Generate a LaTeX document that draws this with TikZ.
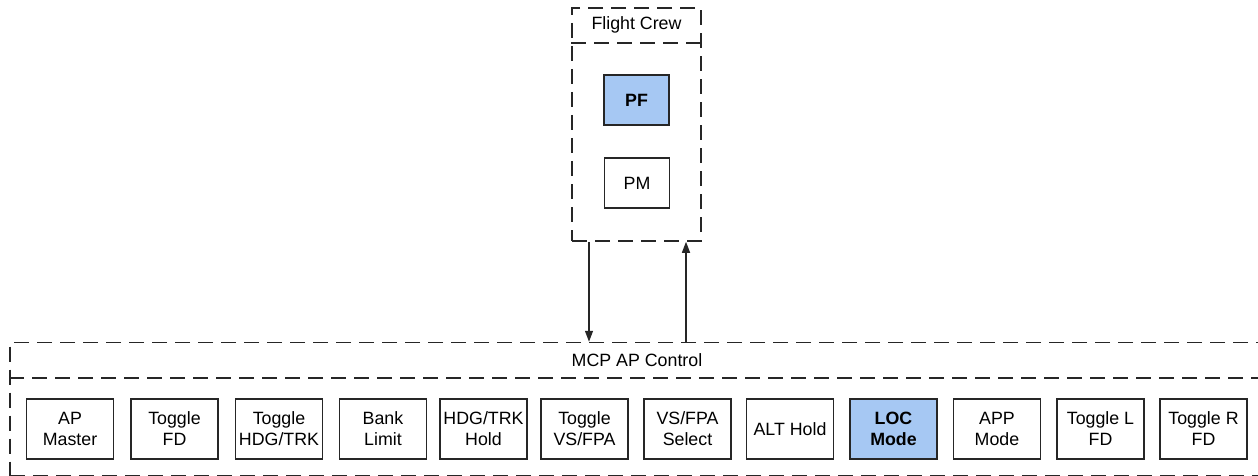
\documentclass[tikz,border=0pt]{standalone}
\usepackage{fontspec}
\setmainfont{Liberation Sans}
\usetikzlibrary{arrows.meta,calc}
\definecolor{selblue}{RGB}{166,200,243}
\tikzset{
  grp/.style={draw=black!85, line width=1.5pt, dash pattern=on 15pt off 8pt},
  cell/.style={draw=black!85, line width=1.3pt, minimum width=87pt, minimum height=60pt,
    inner sep=0pt, align=center, font=\fontsize{17.8}{21}\selectfont},
  crew/.style={cell, minimum width=65pt, minimum height=50pt},
  active/.style={fill=selblue, font=\fontsize{17.8}{21}\selectfont\bfseries},
  title/.style={font=\fontsize{17.8}{21}\selectfont, inner sep=0pt},
  flow/.style={draw=black!85, line width=1.3pt, -{Triangle[length=11pt,width=8pt]}}
}
\begin{document}
\begin{tikzpicture}[x=1pt,y=-1pt]
  \useasboundingbox (0,0) rectangle (1258,476);
  \clip (0,0) rectangle (1258,476);

  % Flight crew group
  \node[grp, minimum width=129pt, minimum height=233pt, inner sep=0pt] (fc) at (636.5,124.5) {};
  \draw[grp] (fc.west |- 0,43) -- (fc.east |- 0,43);
  \node[title] (fctitle) at (636.5,25) {Flight Crew};
  \node[crew, active] (pf) at (636.5,100) {PF};
  \node[crew] (pm) at (637,183) {PM};

  % MCP autopilot control group
  \node[grp, minimum width=1254pt, minimum height=133pt, inner sep=0pt] (mcp) at (637,409) {};
  \draw[grp] (mcp.west |- 0,378) -- (mcp.east |- 0,378);
  \node[title] (mcptitle) at (637,360) {MCP AP Control};

  \node[cell] (apm)  at (70,429)     {AP\\Master};
  \node[cell] (tfd)  at (174.5,429)  {Toggle\\FD};
  \node[cell] (thdg) at (279,429)    {Toggle\\HDG/TRK};
  \node[cell] (bank) at (383,429)    {Bank\\Limit};
  \node[cell] (hdgh) at (483.5,429)  {HDG/TRK\\Hold};
  \node[cell] (tvs)  at (584.5,429)  {Toggle\\VS/FPA};
  \node[cell] (vss)  at (687.5,429)  {VS/FPA\\Select};
  \node[cell] (alt)  at (790,429)    {ALT Hold};
  \node[cell, active] (loc) at (893.5,429) {LOC\\Mode};
  \node[cell] (app)  at (997,429)    {APP\\Mode};
  \node[cell] (tlfd) at (1100.5,429) {Toggle L\\FD};
  \node[cell] (trfd) at (1203.5,429) {Toggle R\\FD};

  % Command and feedback links
  \draw[flow] ([xshift=-47.5pt]fc.south) -- ([xshift=-47.5pt]fc.south |- mcp.north);
  \draw[flow] ([xshift=49.5pt]fc.south |- mcp.north) -- ([xshift=49.5pt]fc.south);
\end{tikzpicture}
\end{document}
